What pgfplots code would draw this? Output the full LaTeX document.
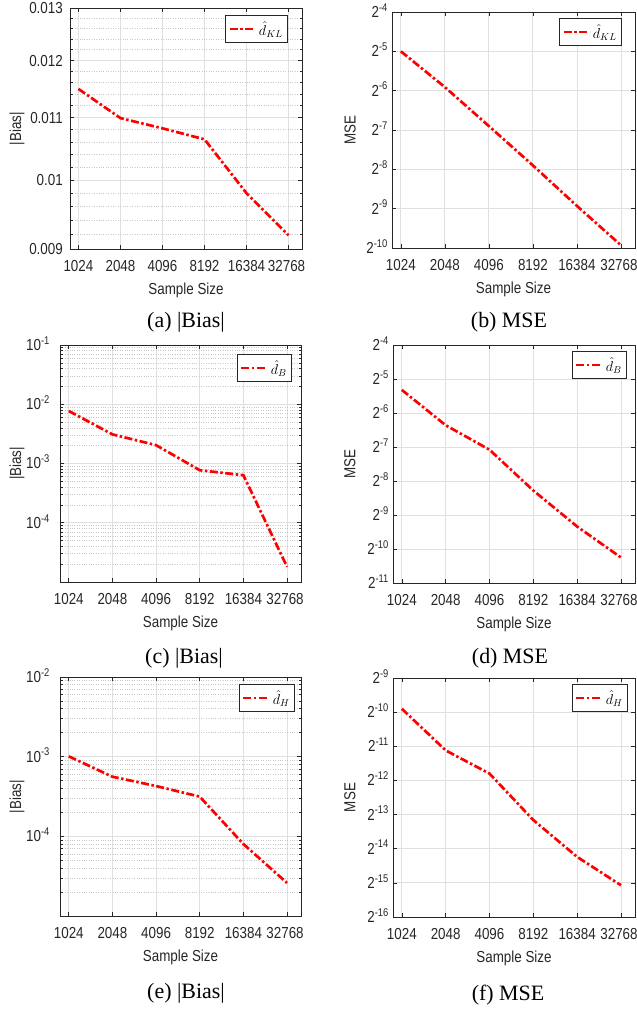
\documentclass[border=0pt]{standalone}
\usepackage{fontspec}
\setmainfont{Liberation Serif}
\setsansfont{Liberation Sans}
\usepackage{graphicx}
\usepackage{pgfplots}
\pgfplotsset{compat=1.18}

\definecolor{gridc}{RGB}{224,224,224}
\definecolor{minc}{RGB}{200,200,200}
\definecolor{axc}{RGB}{38,38,38}

\newcommand\mytl[1]{\scalebox{0.84}[1]{\fontsize{16}{18}\selectfont\sffamily #1}}
\newcommand\mytp[1]{\mytl{2\textsuperscript{-#1}}}
\newcommand\mytq[1]{\mytl{10\textsuperscript{-#1}}}

\pgfplotstableread{
n b
1024 0.01149
2048 0.01099
4096 0.01082
8192 0.01064
16384 0.00980
32768 0.00919
}\biasKL
\pgfplotstableread{
n m
1024 0.03125
2048 0.016631
4096 0.008373
8192 0.0041866
16384 0.0020502
32768 0.0010251
}\mseKL
\pgfplotstableread{
n b
1024 0.0077
2048 0.0031
4096 0.00204
8192 0.00077
16384 0.000635
32768 0.0000181
}\biasB
\pgfplotstableread{
n m
1024 0.025033
2048 0.012174
4096 0.0073911
8192 0.0032172
16384 0.0015431
32768 0.00082119
}\mseB
\pgfplotstableread{
n b
1024 0.00101
2048 0.00056
4096 0.000428
8192 0.000315
16384 0.000080
32768 0.000026
}\biasH
\pgfplotstableread{
n m
1024 0.0010467
2048 0.00044932
4096 0.00028045
8192 0.00010926
16384 0.000051682
32768 0.000029073
}\mseH

\pgfplotsset{
  scale only axis,
  xmin=891, xmax=40905,
  xtick={1024,2048,4096,8192,16384,32768},
  xticklabels={\mytl{1024},\mytl{2048},\mytl{4096},\mytl{8192},\mytl{16384},\mytl{32768}\kern4bp},
  xmajorgrids, ymajorgrids,
  major grid style={gridc, line width=0.8pt},
  minor grid style={minc, dotted, line width=0.6pt},
  axis line style={axc, line width=0.9pt},
  tick style={axc, line width=0.6pt},
  major tick length=4bp, minor tick length=2.5bp,
  tick align=inside,
  tick label style={inner sep=0pt, text=axc},
  xticklabel style={anchor=north, yshift=-11bp},
  xlabel={\mytl{Sample Size}},
  xlabel style={at={(axis description cs:0.5,0)}, anchor=center, yshift=-41bp, text=axc},
  legend cell align=left,
  legend style={anchor=north east, draw=axc, line width=0.7pt, fill=white,
      inner xsep=3bp, inner ysep=4bp, font=\fontsize{14}{16}\selectfont,
      /tikz/every odd column/.append style={column sep=2bp}},
  legend image code/.code={\draw[#1] (0bp,0bp) -- (24bp,0bp);},
}

\begin{document}
\begin{tikzpicture}
\useasboundingbox (0bp,0bp) rectangle (637bp,1009bp);

% (a)
\begin{axis}[xmode=log, log basis x=2, ymode=log, xminorticks=false,
  at={(70bp,760bp)}, anchor=south west, width=232bp, height=241bp,
  ylabel={\mytl{|Bias|}}, yminorgrids,
  ymin=0.009, ymax=0.013,
  ytick={0.009,0.01,0.011,0.012,0.013},
  yticklabels={\mytl{0.009},\mytl{0.01},\mytl{0.011},\mytl{0.012},\mytl{0.013}},
  minor ytick={0.0092,0.0094,0.0096,0.0098,0.0102,0.0104,0.0106,0.0108,0.0112,0.0114,0.0116,0.0118,0.0122,0.0124,0.0126,0.0128},
  yticklabel style={anchor=base east, yshift=-5.5bp, xshift=-7bp},
  ylabel style={at={(axis description cs:-0.2284,0.5)}, anchor=center, text=axc},
  legend style={at={(0.94,0.971)}}]
\addplot[red, line width=2.7bp, dash pattern=on 8bp off 2.5bp on 2.5bp off 2.5bp] table[x=n,y=b] {\biasKL};
\addlegendentry{$\hat{d}_{KL}$}
\end{axis}

% (b)
\begin{axis}[xmode=log, log basis x=2, ymode=log, log basis y=2, xminorticks=false, yminorticks=false,
  at={(392bp,761bp)}, anchor=south west, width=243bp, height=236bp,
  ylabel={\mytl{MSE}},
  ymin=0.0009765625, ymax=0.0625,
  ytick={0.0009765625,0.001953125,0.00390625,0.0078125,0.015625,0.03125,0.0625},
  yticklabels={\mytp{10},\mytp{9},\mytp{8},\mytp{7},\mytp{6},\mytp{5},\mytp{4}},
  yticklabel style={anchor=base east, yshift=-5.5bp, xshift=-4bp},
  ylabel style={at={(axis description cs:-0.1728,0.5)}, anchor=center, text=axc},
  legend style={at={(0.9465,0.9746)}}]
\addplot[red, line width=2.7bp, dash pattern=on 8bp off 2.5bp on 2.5bp off 2.5bp] table[x=n,y=m] {\mseKL};
\addlegendentry{$\hat{d}_{KL}$}
\end{axis}

% (c)
\begin{axis}[xmode=log, log basis x=2, ymode=log, xminorticks=false,
  at={(60bp,427bp)}, anchor=south west, width=241bp, height=237bp,
  ylabel={\mytl{|Bias|}}, yminorgrids,
  ymin=1e-5, ymax=1e-1,
  ytick={1e-4,1e-3,1e-2,1e-1},
  yticklabels={\mytq{4},\mytq{3},\mytq{2},\mytq{1}},
  minor ytick={2e-5,3e-5,4e-5,5e-5,6e-5,7e-5,8e-5,9e-5,2e-4,3e-4,4e-4,5e-4,6e-4,7e-4,8e-4,9e-4,2e-3,3e-3,4e-3,5e-3,6e-3,7e-3,8e-3,9e-3,2e-2,3e-2,4e-2,5e-2,6e-2,7e-2,8e-2,9e-2},
  yticklabel style={anchor=base east, yshift=-5.5bp, xshift=-10bp},
  ylabel style={at={(axis description cs:-0.1784,0.5)}, anchor=center, text=axc},
  legend style={at={(0.9627,0.962)}}]
\addplot[red, line width=2.7bp, dash pattern=on 8bp off 2.5bp on 2.5bp off 2.5bp] table[x=n,y=b] {\biasB};
\addlegendentry{$\hat{d}_{B}$}
\end{axis}

% (d)
\begin{axis}[xmode=log, log basis x=2, ymode=log, log basis y=2, xminorticks=false, yminorticks=false,
  at={(393bp,426bp)}, anchor=south west, width=242bp, height=238bp,
  ylabel={\mytl{MSE}},
  ymin=0.00048828125, ymax=0.0625,
  ytick={0.00048828125,0.0009765625,0.001953125,0.00390625,0.0078125,0.015625,0.03125,0.0625},
  yticklabels={\mytp{11},\mytp{10},\mytp{9},\mytp{8},\mytp{7},\mytp{6},\mytp{5},\mytp{4}},
  yticklabel style={anchor=base east, yshift=-5.5bp, xshift=-4bp},
  ylabel style={at={(axis description cs:-0.1777,0.5)}, anchor=center, text=axc},
  legend style={at={(0.967,0.975)}}]
\addplot[red, line width=2.7bp, dash pattern=on 8bp off 2.5bp on 2.5bp off 2.5bp] table[x=n,y=m] {\mseB};
\addlegendentry{$\hat{d}_{B}$}
\end{axis}

% (e)
\begin{axis}[xmode=log, log basis x=2, ymode=log, xminorticks=false,
  at={(60bp,93bp)}, anchor=south west, width=241bp, height=239bp,
  ylabel={\mytl{|Bias|}}, yminorgrids,
  ymin=1e-5, ymax=1e-2,
  ytick={1e-4,1e-3,1e-2},
  yticklabels={\mytq{4},\mytq{3},\mytq{2}},
  minor ytick={2e-5,3e-5,4e-5,5e-5,6e-5,7e-5,8e-5,9e-5,2e-4,3e-4,4e-4,5e-4,6e-4,7e-4,8e-4,9e-4,2e-3,3e-3,4e-3,5e-3,6e-3,7e-3,8e-3,9e-3},
  yticklabel style={anchor=base east, yshift=-5.5bp, xshift=-10bp},
  ylabel style={at={(axis description cs:-0.1784,0.5)}, anchor=center, text=axc},
  legend style={at={(0.975,0.971)}}]
\addplot[red, line width=2.7bp, dash pattern=on 8bp off 2.5bp on 2.5bp off 2.5bp] table[x=n,y=b] {\biasH};
\addlegendentry{$\hat{d}_{H}$}
\end{axis}

% (f)
\begin{axis}[xmode=log, log basis x=2, ymode=log, log basis y=2, xminorticks=false, yminorticks=false,
  at={(393bp,92bp)}, anchor=south west, width=242bp, height=239bp,
  ylabel={\mytl{MSE}},
  ymin=1.52587890625e-5, ymax=0.001953125,
  ytick={1.52587890625e-5,3.0517578125e-5,6.103515625e-5,0.0001220703125,0.000244140625,0.00048828125,0.0009765625,0.001953125},
  yticklabels={\mytp{16},\mytp{15},\mytp{14},\mytp{13},\mytp{12},\mytp{11},\mytp{10},\mytp{9}},
  yticklabel style={anchor=base east, yshift=-5.5bp, xshift=-4bp},
  ylabel style={at={(axis description cs:-0.1777,0.5)}, anchor=center, text=axc},
  legend style={at={(0.971,0.975)}}]
\addplot[red, line width=2.7bp, dash pattern=on 8bp off 2.5bp on 2.5bp off 2.5bp] table[x=n,y=m] {\mseH};
\addlegendentry{$\hat{d}_{H}$}
\end{axis}

% captions
\begin{scope}[every node/.style={anchor=base, inner sep=0pt, font=\fontsize{22}{26}\selectfont}]
\node at (186bp,681bp) {(a) |Bias|};
\node at (509bp,681bp) {(b) MSE};
\node at (184bp,345bp) {(c) |Bias|};
\node at (510bp,345bp) {(d) MSE};
\node at (186bp,11bp) {(e) |Bias|};
\node at (508bp,9bp) {(f) MSE};
\end{scope}
\end{tikzpicture}
\end{document}
